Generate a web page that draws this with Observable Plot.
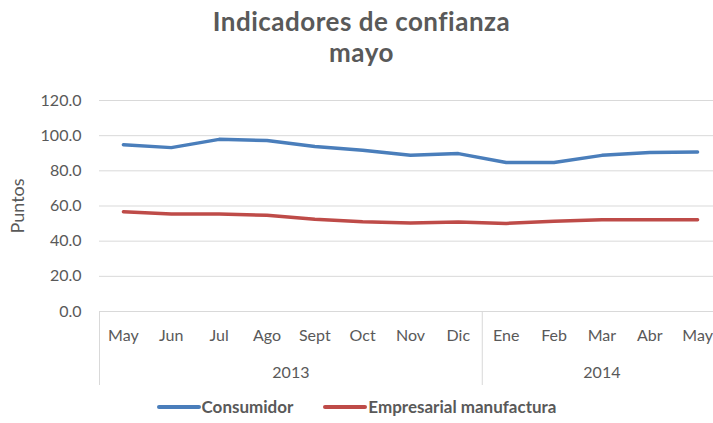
<!DOCTYPE html>
<html>
<head>
<meta charset="utf-8">
<script src="https://cdn.jsdelivr.net/npm/d3@7"></script>
<script src="https://cdn.jsdelivr.net/npm/@observablehq/plot@0.6"></script>
<style>
  html, body { margin: 0; padding: 0; background: #fff; }
  #wrap { width: 713px; height: 423px; position: relative; overflow: hidden; font-family: Lato, "Open Sans", sans-serif; color: #595959; }
  #title { height: 80px; box-sizing: border-box; padding-top: 6px; text-align: center; font-weight: bold; font-size: 26px; line-height: 31px; letter-spacing: 0.5px; color: #595959; }
  #title div { padding-left: 10px; }
  #legend { height: 33px; display: flex; justify-content: center; align-items: center; font-weight: bold; font-size: 17px; color: #595959; padding-left: 0px; box-sizing: border-box; }
  .item { display: flex; align-items: center; margin: 0 15px; }
  .swatch { width: 44px; height: 4px; border-radius: 2px; margin-right: 1px; }
</style>
</head>
<body>
<div id="wrap">
  <div id="title"><div>Indicadores de confianza</div><div>mayo</div></div>
  <div id="chart"></div>
  <div id="legend"></div>
</div>
<script>
// ---- data ----
const months = ["May", "Jun", "Jul", "Ago", "Sept", "Oct", "Nov", "Dic", "Ene", "Feb", "Mar", "Abr", "May"];
const yearOf = ["2013", "2013", "2013", "2013", "2013", "2013", "2013", "2013", "2014", "2014", "2014", "2014", "2014"];
const consumidor = [94.9, 93.2, 97.9, 97.3, 93.9, 91.7, 88.8, 89.8, 84.7, 84.7, 88.8, 90.4, 90.7];
const empresarial = [56.7, 55.4, 55.4, 54.7, 52.4, 51.0, 50.3, 50.9, 50.1, 51.3, 52.2, 52.2, 52.2];
const seriesNames = ["Consumidor", "Empresarial manufactura"];
const seriesColors = ["#4a7ebb", "#be4b48"];
const yTicks = [0, 20, 40, 60, 80, 100, 120];
const yLabel = "Puntos";

// ---- derived tables ----
const seriesValues = [consumidor, empresarial];
const rows = seriesNames.flatMap((s, k) => months.map((m, i) => ({i, serie: s, v: seriesValues[k][i]})));
const yearGroups = d3.groups(months.map((m, i) => ({i, y: yearOf[i]})), d => d.y)
  .map(([y, arr]) => ({year: y, start: arr[0].i, end: arr[arr.length - 1].i}));

const chart = Plot.plot({
  width: 713,
  height: 310,
  marginTop: 20,
  marginBottom: 79,
  marginLeft: 99,
  marginRight: 0,
  style: {fontFamily: "Lato, 'Open Sans', sans-serif", fontSize: "16px", color: "#595959", background: "#fff"},
  x: {type: "linear", domain: [-0.5, months.length - 0.5], range: [99, 721]},
  y: {domain: [0, 120]},
  color: {domain: seriesNames, range: seriesColors},
  marks: [
    Plot.gridY(yTicks, {stroke: "#d9d9d9", strokeOpacity: 1}),
    Plot.ruleY([0], {stroke: "#d9d9d9"}),
    Plot.ruleX(yearGroups, {x: d => d.start - 0.5, y1: 0, y2: 0, insetBottom: -74, stroke: "#d9d9d9"}),
    Plot.axisY(yTicks, {tickSize: 0, tickPadding: 18, tickFormat: d3.format(".1f"), label: null, fontSize: 16}),
    Plot.text([yLabel], {frameAnchor: "left", textAnchor: "middle", rotate: -90, dx: -81, text: d => d, fontSize: 18, fill: "#595959"}),
    Plot.axisX(d3.range(months.length), {tickSize: 0, tickPadding: 18, tickFormat: i => months[i], label: null, fontSize: 16}),
    Plot.text(yearGroups, {x: d => (d.start + d.end) / 2, y: 0, dy: 61, text: "year", fontSize: 16, fill: "#595959"}),
    Plot.line(rows, {x: "i", y: "v", z: "serie", stroke: "serie", strokeWidth: 3.5, strokeLinecap: "round", strokeLinejoin: "round"})
  ]
});
document.getElementById("chart").appendChild(chart);

// legend
const legend = document.getElementById("legend");
seriesNames.forEach((s, k) => {
  const item = document.createElement("div");
  item.className = "item";
  const sw = document.createElement("span");
  sw.className = "swatch";
  sw.style.background = seriesColors[k];
  const t = document.createElement("span");
  t.textContent = s;
  item.appendChild(sw);
  item.appendChild(t);
  legend.appendChild(item);
});
</script>
</body>
</html>
